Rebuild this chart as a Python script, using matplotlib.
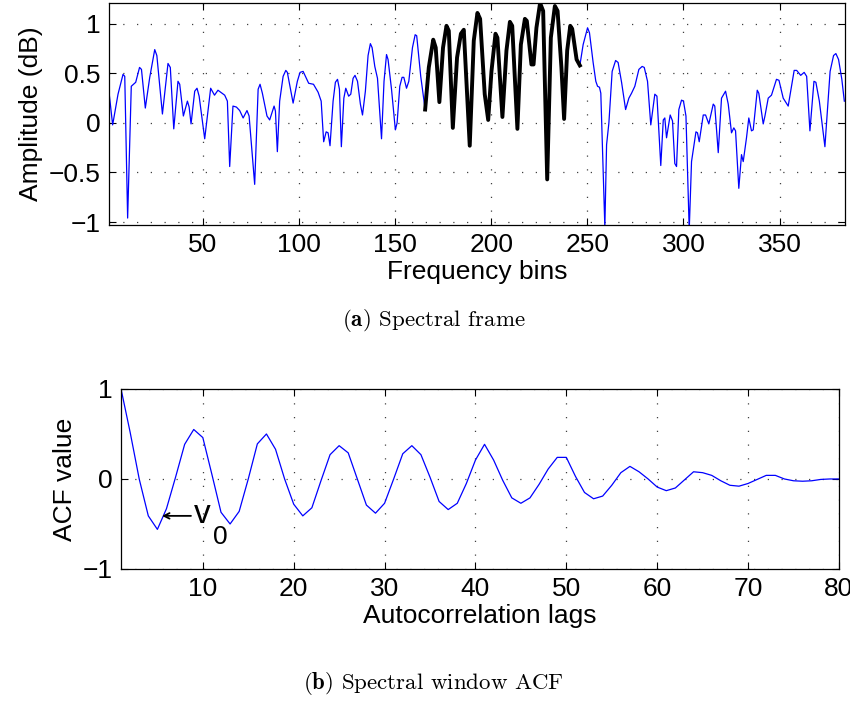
import matplotlib
matplotlib.use("Agg")
import matplotlib.pyplot as plt
import numpy as np

plt.rcParams['font.family'] = ['Liberation Sans', 'DejaVu Sans']
plt.rcParams['mathtext.fontset'] = 'cm'

# ── Daten: Spektralrahmen ─────────────────────────────────────────────────────
freq_bins = [
    1.0, 3.0, 5.8, 8.4, 9.3, 10.8, 12.7, 15.0, 17.0, 18.0, 20.0, 22.3, 24.9, 26.0,
    28.9, 31.8, 33.0, 34.8, 37.0, 37.9, 39.8, 41.9, 42.8, 43.8, 45.7, 46.9, 48.0,
    50.9, 54.0, 56.0, 57.8, 61.3, 62.7, 63.9, 65.6, 67.4, 69.1, 70.9, 72.9, 74.0,
    76.9, 78.7, 79.7, 80.9, 83.3, 84.7, 87.0, 87.7, 88.7, 89.9, 91.7, 93.1, 93.9,
    96.9, 99.1, 100.5, 102.1, 103.3, 105.0, 107.5, 109.9, 111.5, 112.8, 114.1,
    115.1, 116.1, 117.7, 118.9, 120.0, 121.0, 122.0, 123.3, 124.3, 125.8, 126.9,
    128.1, 129.1, 130.4, 131.9, 133.0, 134.5, 135.9, 137.1, 138.0, 139.4, 140.8,
    142.9, 144.2, 145.5, 146.3, 148.1, 150.1, 151.0, 152.4, 153.6, 154.5, 155.9,
    157.1, 159.0, 160.4, 161.2, 163.3, 165.6, 167.5, 169.8, 171.1, 173.0, 174.9,
    176.7, 177.9, 180.0, 182.2, 184.2, 185.7, 188.8, 190.9, 192.8, 194.2, 196.6,
    198.4, 200.1, 202.2, 203.2, 205.8, 207.9, 209.7, 210.9, 213.6, 215.4, 217.5,
    218.5, 220.9, 222.0, 223.5, 225.4, 227.0, 229.1, 231.0, 233.1, 234.5, 236.5,
    237.9, 239.5, 241.1, 242.1, 244.4, 246.1, 247.8, 250.1, 251.1, 253.0, 254.4,
    255.3, 256.3, 257.0, 259.1, 260.0, 261.2, 262.9, 264.7, 266.0, 267.8, 269.9,
    271.6, 273.0, 274.7, 276.8, 278.5, 279.6, 281.3, 283.0, 285.1, 286.2, 288.2,
    289.5, 290.3, 291.2, 293.1, 294.3, 295.5, 296.4, 297.6, 299.0, 300.0, 301.3,
    303.0, 304.2, 306.5, 307.3, 308.2, 310.3, 311.5, 313.2, 315.5, 316.3, 318.1,
    319.8, 321.9, 323.3, 325.0, 326.2, 327.1, 328.8, 330.2, 331.1, 332.8, 334.0,
    335.4, 336.3, 338.4, 339.2, 341.5, 342.4, 344.1, 345.8, 348.4, 349.7, 351.9,
    354.5, 357.6, 358.9, 361.0, 362.8, 364.1, 365.8, 367.9, 368.9, 370.7, 371.9,
    373.6, 376.3, 378.1, 379.3, 380.7, 382.4, 383.7,
]
amp_db = [
    0.33, -0.02, 0.29, 0.49, 0.47, -0.96, 0.37, 0.41, 0.56, 0.54, 0.15, 0.46, 0.74, 0.68,
    0.09, 0.60, 0.56, -0.06, 0.42, 0.39, 0.07, 0.22, 0.16, -0.01, 0.32, 0.35, 0.27,
    -0.16, 0.35, 0.28, 0.33, 0.28, 0.22, -0.44, 0.17, 0.16, 0.125, 0.05, 0.125, 0.07,
    -0.62, 0.34, 0.39, 0.30, 0.07, 0.03, 0.17, 0.12, -0.29, 0.22, 0.47, 0.53, 0.51,
    0.20, 0.42, 0.51, 0.52, 0.47, 0.40, 0.39, 0.31, 0.22, -0.19, -0.09,
    -0.10, -0.23, 0.22, 0.41, 0.44, 0.34, -0.24, 0.25, 0.35, 0.27, 0.29,
    0.45, 0.48, 0.42, 0.19, 0.08, 0.32, 0.68, 0.80, 0.76, 0.57, 0.45,
    -0.16, 0.42, 0.69, 0.64, 0.34, -0.07, 0.00, 0.37, 0.46, 0.46, 0.35,
    0.42, 0.76, 0.89, 0.88, 0.47, 0.135, 0.56, 0.84, 0.76, 0.21, 0.76,
    0.98, 0.93, -0.05, 0.66, 0.90, 0.94, -0.23, 0.83, 1.11, 1.05, 0.29,
    0.03, 0.52, 0.90, 0.86, 0.06, 0.73, 1.02, 0.98, -0.06, 0.79, 1.05,
    1.03, 0.59, 0.59, 0.96, 1.21, 1.13, -0.57, 0.86, 1.18, 1.13, 0.56,
    0.04, 0.73, 0.98, 0.95, 0.64, 0.58, 0.79, 0.96, 0.91, 0.61, 0.42,
    0.37, 0.36, 0.30, -1.05, -0.22, 0.00, 0.52, 0.63, 0.61, 0.41, 0.135,
    0.25, 0.30, 0.37, 0.54, 0.57, 0.56, 0.42, -0.02, 0.29, 0.27, -0.43,
    0.03, 0.05, -0.15, 0.08, 0.02, -0.41, -0.44, 0.135, 0.23, 0.22, 0.07,
    -1.08, -0.39, -0.09, -0.10, -0.19, 0.08, 0.08, -0.01, 0.19, 0.17, -0.30,
    0.25, 0.32, 0.19, -0.10, -0.05, -0.08, -0.66, -0.32, -0.39, -0.15, 0.05,
    -0.08, -0.07, 0.33, 0.30, -0.01, 0.07, 0.25, 0.28, 0.44, 0.43, 0.25,
    0.17, 0.53, 0.53, 0.48, 0.51, 0.47, -0.08, 0.42, 0.41, 0.22, 0.03,
    -0.24, 0.52, 0.68, 0.70, 0.64, 0.44, 0.22,
]
# hervorgehobener Bereich (schwarz)
hl_start, hl_end = 165.6, 246.1

# ── Daten: ACF ────────────────────────────────────────────────────────────────
lags = list(range(1, 81))
acf_vals = [
    1.0, 0.52, 0.0, -0.41, -0.56, -0.33, 0.02, 0.385, 0.55, 0.46,
    0.05, -0.37, -0.50, -0.36, 0.0, 0.39, 0.50, 0.33, 0.0, -0.28,
    -0.41, -0.32, -0.02, 0.27, 0.37, 0.29, 0.0, -0.29, -0.38, -0.27,
    0.0, 0.28, 0.37, 0.27, 0.02, -0.25, -0.34, -0.27, -0.05, 0.21,
    0.385, 0.21, -0.015, -0.21, -0.27, -0.21, -0.06, 0.11, 0.24, 0.24,
    0.03, -0.15, -0.22, -0.19, -0.07, 0.07, 0.14, 0.08, 0.0, -0.09,
    -0.13, -0.10, -0.01, 0.08, 0.07, 0.04, -0.02, -0.07, -0.08, -0.05,
    -0.005, 0.04, 0.04, 0.0, -0.02, -0.025, -0.02, -0.005, 0.0, 0.0,
]

FS = 19
C_BLUE = "#0000ff"

fig = plt.figure(figsize=(8.5, 7.02), dpi=100, facecolor="white")


def style_axes(ax):
    ax.tick_params(direction='in', top=True, right=True, labelsize=FS,
                   length=5, width=0.8, pad=6)
    for s in ax.spines.values():
        s.set_linewidth(0.9)
    ax.grid(True, color='0.25', linestyle=(0, (1, 10)), linewidth=0.9)


# ── (a) Spektralrahmen ────────────────────────────────────────────────────────
ax1 = fig.add_axes([0.128, 0.6795, 0.866, 0.3162])
fb = np.array(freq_bins); ad = np.array(amp_db)
ax1.plot(fb, ad, color=C_BLUE, lw=0.9)
m = (fb >= hl_start) & (fb <= hl_end)
ax1.plot(fb[m], ad[m], color='k', lw=2.8, solid_joinstyle='round')
ax1.set_xlim(1, 384)
ax1.set_ylim(-1.03, 1.21)
ax1.set_xticks([50, 100, 150, 200, 250, 300, 350])
ax1.set_yticks([-1, -0.5, 0, 0.5, 1])
ax1.set_yticklabels(['\u22121', '\u22120.5', '0', '0.5', '1'])
style_axes(ax1)
ax1.set_xlabel("Frequency bins", fontsize=FS, labelpad=2)
ax1.set_ylabel("Amplitude (dB)", fontsize=FS, labelpad=4)

fig.text(0.51, 0.544, r'$\mathbf{(a)}$ Spectral frame', ha='center', va='center',
         fontsize=16.5, family='cmr10')

# ── (b) ACF ───────────────────────────────────────────────────────────────────
ax2 = fig.add_axes([0.1424, 0.1895, 0.8446, 0.2564])
ax2.plot(lags, acf_vals, color=C_BLUE, lw=0.9)
ax2.set_xlim(1, 80)
ax2.set_ylim(-1, 1)
ax2.set_xticks([10, 20, 30, 40, 50, 60, 70, 80])
ax2.set_yticks([-1, 0, 1])
ax2.set_yticklabels(['\u22121', '0', '1'])
style_axes(ax2)
ax2.set_xlabel("Autocorrelation lags", fontsize=FS, labelpad=2)
ax2.set_ylabel("ACF value", fontsize=FS, labelpad=4)

# Markierung v0
ax2.annotate('', xy=(5.2, -0.41), xytext=(9.0, -0.41),
             arrowprops=dict(arrowstyle='->', color='k', lw=1.3))
ax2.text(9.0, -0.39, 'v', fontsize=FS + 5, ha='left', va='center')
ax2.text(11.1, -0.64, '0', fontsize=FS, ha='left', va='center')

fig.text(0.51, 0.027, r'$\mathbf{(b)}$ Spectral window ACF', ha='center',
         va='center', fontsize=16.5, family='cmr10')

fig.savefig("out.png", dpi=100, facecolor="white")
